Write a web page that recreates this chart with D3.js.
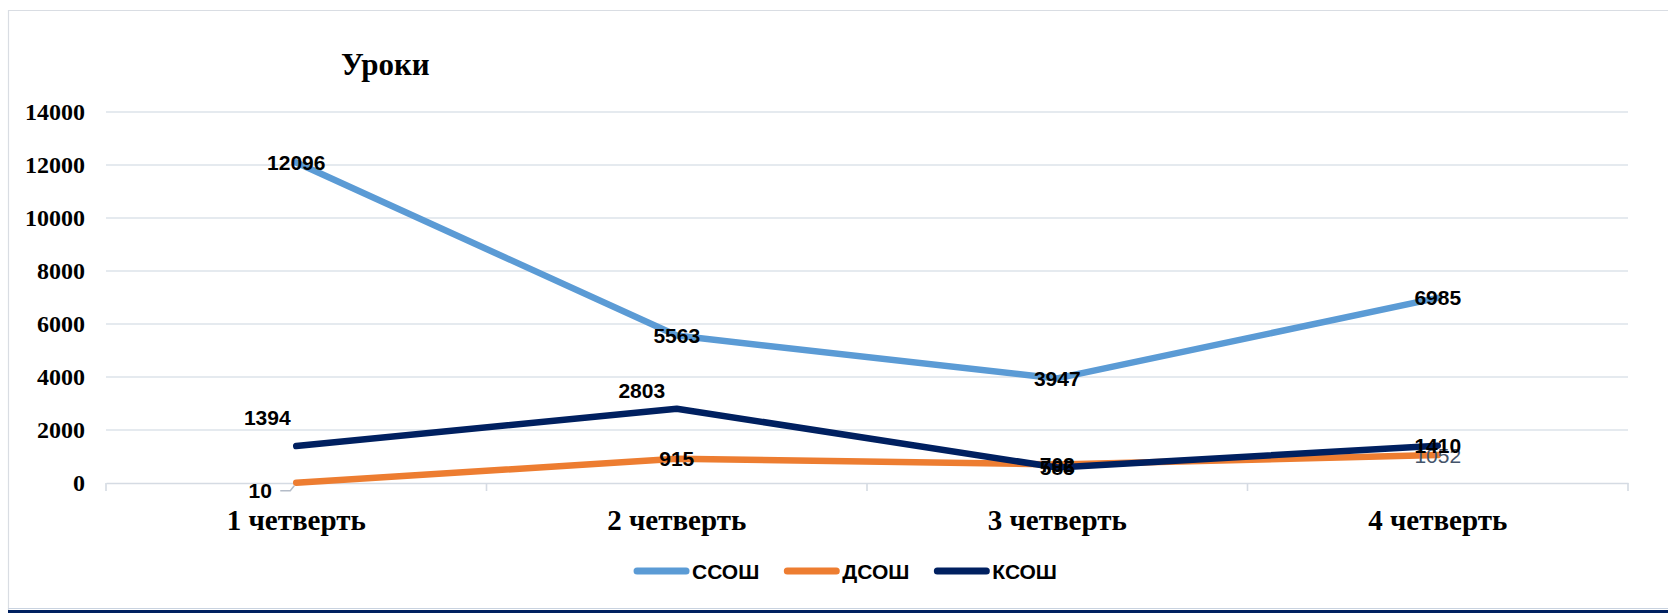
<!DOCTYPE html>
<html>
<head>
<meta charset="utf-8">
<script src="https://cdn.jsdelivr.net/npm/d3@7"></script>
<style>
  html, body { margin: 0; padding: 0; background: #fff; }
  svg { display: block; }
</style>
</head>
<body>
<svg id="chart" width="1668" height="613"></svg>
<script>
// ---- data ----
const categories = ["1 четверть", "2 четверть", "3 четверть", "4 четверть"];
const seriesNames = ["ССОШ", "ДСОШ", "КСОШ"];
const ssoshValues = [12096, 5563, 3947, 6985];
const dsoshValues = [10, 915, 702, 1052];
const ksoshValues = [1394, 2803, 585, 1410];
const yTicks = [0, 2000, 4000, 6000, 8000, 10000, 12000, 14000];
const titleText = "Уроки";

// ---- styles / layout (separate from data) ----
const colors = { "ССОШ": "#5B9BD5", "ДСОШ": "#ED7D31", "КСОШ": "#002060" };
// manual label nudges (px) as in the original chart: [series][category]
const labelNudge = {
  "ССОШ": [[0, 0], [0, 0], [0, 0], [0, 0]],
  "ДСОШ": [[-36, 8], [0, 0], [0, 0], [0, 0]],
  "КСОШ": [[-29, -29], [-35, -18], [0, 0], [0, 0]]
};

const svg = d3.select("#chart");
const W = 1668, H = 613;
const plot = { left: 106, right: 1628, top: 112, bottom: 483 };

const series = [
  { name: "ССОШ", values: ssoshValues },
  { name: "ДСОШ", values: dsoshValues },
  { name: "КСОШ", values: ksoshValues }
];

const x = d3.scaleBand().domain(categories).range([plot.left, plot.right]).paddingInner(0).paddingOuter(0);
const y = d3.scaleLinear().domain([0, 14000]).range([plot.bottom, plot.top]);
const cx = c => x(c) + x.bandwidth() / 2;

// frame
svg.append("line").attr("x1", 8.5).attr("x2", 8.5).attr("y1", 10).attr("y2", 610)
  .attr("stroke", "#d9dde3").attr("stroke-width", 1.2);
svg.append("line").attr("x1", 8).attr("x2", W).attr("y1", 10.5).attr("y2", 10.5)
  .attr("stroke", "#d9dde3").attr("stroke-width", 1.2);
svg.append("line").attr("x1", 8).attr("x2", W).attr("y1", 608.5).attr("y2", 608.5)
  .attr("stroke", "#c9d3e0").attr("stroke-width", 1);
svg.append("rect").attr("x", 8).attr("y", 610).attr("width", W - 8).attr("height", 3)
  .attr("fill", "#002060");

// gridlines
svg.append("g").selectAll("line").data(yTicks.filter(t => t > 0)).join("line")
  .attr("x1", plot.left).attr("x2", plot.right)
  .attr("y1", d => y(d)).attr("y2", d => y(d))
  .attr("stroke", "#dde3ea").attr("stroke-width", 1.6);

// x axis
const xAxis = d3.axisBottom(x).tickSize(0).tickFormat(d => d);
const gx = svg.append("g").attr("transform", `translate(0,${plot.bottom})`).call(xAxis);
gx.select(".domain").attr("stroke", "#d5dbe3").attr("stroke-width", 1.6);
gx.selectAll(".tick text")
  .attr("font-family", "'Liberation Serif', 'Times New Roman', serif")
  .attr("font-weight", "bold").attr("font-size", 29).attr("fill", "#000")
  .attr("dy", 0).attr("y", 47);
// category boundary ticks
const boundaries = categories.map(c => x(c)).concat([plot.right]);
svg.append("g").selectAll("line").data(boundaries).join("line")
  .attr("x1", d => d).attr("x2", d => d)
  .attr("y1", plot.bottom).attr("y2", plot.bottom + 8)
  .attr("stroke", "#d5dbe3").attr("stroke-width", 1.6);

// y axis labels
const yAxis = d3.axisLeft(y).tickValues(yTicks).tickSize(0).tickFormat(d3.format("d"));
const gy = svg.append("g").attr("transform", `translate(85,0)`).call(yAxis);
gy.select(".domain").remove();
gy.selectAll(".tick text")
  .attr("font-family", "'Liberation Serif', 'Times New Roman', serif")
  .attr("font-weight", "bold").attr("font-size", 24).attr("fill", "#000")
  .attr("x", 0);

// title
svg.append("text").attr("x", 341).attr("y", 75)
  .attr("font-family", "'Liberation Serif', 'Times New Roman', serif")
  .attr("font-weight", "bold").attr("font-size", 31).attr("fill", "#000")
  .text(titleText);

// lines
const line = d3.line().x((d, i) => cx(categories[i])).y(d => y(d));
svg.append("g").selectAll("path").data(series).join("path")
  .attr("d", s => line(s.values))
  .attr("fill", "none")
  .attr("stroke", s => colors[s.name])
  .attr("stroke-width", 6.5)
  .attr("stroke-linejoin", "round")
  .attr("stroke-linecap", "round");

// leader line for the small ДСОШ first value
{
  const px = cx(categories[0]), py = y(dsoshValues[0]);
  const n = labelNudge["ДСОШ"][0];
  const lx = px + n[0] + 20, ly = py + n[1];
  svg.append("path")
    .attr("d", `M${lx},${ly} L${px - 6},${ly} L${px - 2},${py + 3}`)
    .attr("fill", "none").attr("stroke", "#b4bcc8").attr("stroke-width", 1.5);
}

// data labels
const labelG = svg.append("g");
series.forEach(s => {
  s.values.forEach((v, i) => {
    const n = labelNudge[s.name][i];
    const special = (s.name === "ДСОШ" && i === 3);
    labelG.append("text")
      .attr("x", cx(categories[i]) + n[0])
      .attr("y", y(v) + n[1])
      .attr("text-anchor", "middle")
      .attr("dominant-baseline", "central")
      .attr("font-family", "'Liberation Sans', Arial, sans-serif")
      .attr("font-weight", special ? "normal" : "bold")
      .attr("font-size", 21)
      .attr("fill", special ? "#44546A" : "#000")
      .text(v);
  });
});

// legend
const legend = svg.append("g");
const legendY = 571;
const items = [];
seriesNames.forEach(name => {
  const g = legend.append("g");
  g.append("line").attr("x1", 4).attr("x2", 53).attr("y1", legendY).attr("y2", legendY)
    .attr("stroke", colors[name]).attr("stroke-width", 7).attr("stroke-linecap", "round");
  const t = g.append("text").attr("x", 59).attr("y", legendY)
    .attr("dominant-baseline", "central")
    .attr("font-family", "'Liberation Sans', Arial, sans-serif")
    .attr("font-weight", "bold").attr("font-size", 21).attr("fill", "#000")
    .text(name);
  items.push({ g, w: 59 + t.node().getComputedTextLength() });
});
const gap = 24;
const total = d3.sum(items, d => d.w) + gap * (items.length - 1);
let lxPos = 849 - total / 2;
items.forEach(it => {
  it.g.attr("transform", `translate(${lxPos - 4},0)`);
  lxPos += it.w + gap;
});
</script>
</body>
</html>
